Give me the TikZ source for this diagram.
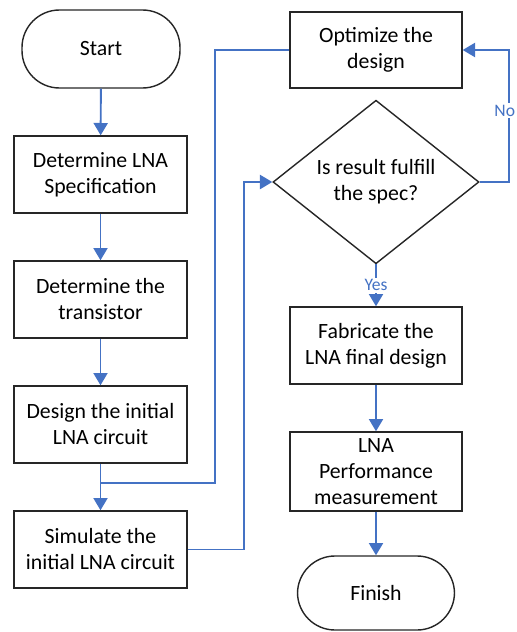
\documentclass[tikz,border=0pt]{standalone}
\usepackage{fontspec}
\setmainfont{Carlito}
\usetikzlibrary{shapes.geometric,arrows.meta}
\definecolor{lineblue}{RGB}{68,114,196}

\begin{document}
\begin{tikzpicture}[
  box/.style={draw=black!85,line width=0.8pt,minimum width=3.46cm,minimum height=1.54cm,align=center,font=\fontsize{12.4}{14.8}\selectfont},
  term/.style={box,rounded corners=0.75cm,minimum width=3.16cm},
  decide/.style={draw=black!85,line width=0.8pt,diamond,inner sep=0pt,minimum width=4.12cm,minimum height=3.06cm,align=center,font=\fontsize{12.4}{14.8}\selectfont},
  flow/.style={draw=lineblue,line width=1.1pt},
  flowarr/.style={flow,-{Triangle[width=8pt,length=7pt]}},
  answer/.style={fill=white,text=lineblue,inner sep=1pt,font=\fontsize{10}{12}\selectfont}]
\useasboundingbox (0,0) rectangle (10.32,-12.64);

% left column
\node[term,minimum height=1.56cm] (start) at (2.02,-0.98) {Start};
\node[box] (spec) at (2.01,-3.49) {Determine LNA\\Specification};
\node[box] (trans) at (2.01,-5.99) {Determine the\\transistor};
\node[box] (init) at (2.01,-8.49) {Design the initial\\LNA circuit};
\node[box] (sim) at (2.01,-10.99) {Simulate the\\initial LNA circuit};

% right column
\node[box,minimum width=3.44cm,minimum height=1.52cm] (opt) at (7.52,-1.0) {Optimize the\\design};
\node[decide] (check) at (7.52,-3.64) {Is result fulfill\\the spec?};
\node[box,minimum width=3.44cm] (fab) at (7.52,-6.91) {Fabricate the\\LNA final design};
\node[box,minimum width=3.44cm,minimum height=1.58cm] (perf) at (7.52,-9.43) {LNA\\Performance\\measurement};
\node[term,minimum width=3.14cm,minimum height=1.48cm] (finish) at (7.52,-11.86) {Finish};

\coordinate (join) at (2.01,-9.66);
\coordinate (loop) at (4.30,-1.0);

\draw[flowarr] (start) -- (spec);
\draw[flowarr] (spec) -- (trans);
\draw[flowarr] (trans) -- (init);
\draw[flowarr] (init) -- (sim);
\draw[flow] (opt.west) -- (loop) |- (join);
\draw[flowarr] (sim.east) -- ++(1.12,0) |- (check.west);
\draw[flowarr] (check.east) -- ++(0.58,0) |- (opt.east) node[answer,pos=0.27,xshift=-0.08cm]{No};
\draw[flowarr] (check.south) -- (fab.north) node[answer,midway]{Yes};
\draw[flowarr] (fab) -- (perf);
\draw[flowarr] (perf) -- (finish);
\end{tikzpicture}
\end{document}
